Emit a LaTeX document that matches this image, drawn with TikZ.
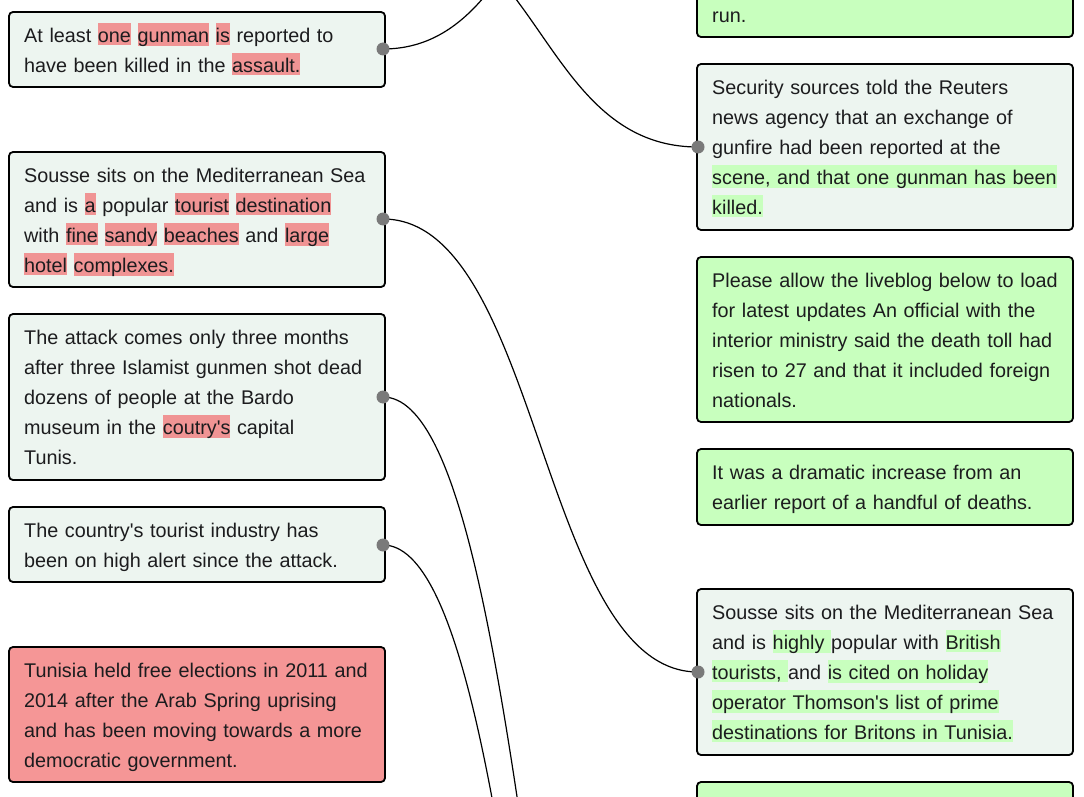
\documentclass[tikz,border=0pt]{standalone}
\usepackage{fontspec}
\newfontfamily\boxfont{Liberation Sans}
\usetikzlibrary{calc,backgrounds}
\definecolor{lightbox}{RGB}{237,245,240}
\definecolor{greenbox}{RGB}{200,255,190}
\definecolor{redbox}{RGB}{245,150,150}
\definecolor{hlred}{RGB}{240,148,148}
\definecolor{hlgreen}{RGB}{200,255,190}
\definecolor{txtcol}{RGB}{28,28,30}
\definecolor{dotgrey}{RGB}{122,122,122}
\newcommand\ls{\rule[-3pt]{0pt}{22.5pt}}
\newcommand\hr[1]{{\setlength{\fboxsep}{0pt}\colorbox{hlred}{\ls#1}}}
\newcommand\hg[1]{{\setlength{\fboxsep}{0pt}\colorbox{hlgreen}{\ls#1}}}
\tikzset{
  box/.style={rectangle, rounded corners=4pt, draw=black, line width=1.8pt, minimum width=376pt, anchor=north west, inner sep=0pt, outer sep=0pt},
  lbox/.style={box, fill=lightbox},
  gbox/.style={box, fill=greenbox},
  rbox/.style={box, fill=redbox},
  txt/.style={anchor=north west, inner sep=0pt, text width=380pt, align=left, font=\boxfont\fontsize{19.8}{30}\selectfont, text=txtcol},
  dot/.style={circle, fill=dotgrey, minimum size=13pt, inner sep=0pt},
  link/.style={line width=1.2pt, draw=black}
}
\begin{document}
\begin{tikzpicture}[x=1pt,y=-1pt]
\useasboundingbox (0,0) rectangle (1084,797);
\clip (0,0) rectangle (1084,797);
% left column boxes
\node[lbox, minimum height=75pt] (L1) at (9,12) {};
\node[lbox, minimum height=135pt] (L2) at (9,152) {};
\node[lbox, minimum height=166pt] (L3) at (9,314) {};
\node[lbox, minimum height=75pt] (L4) at (9,507) {};
\node[rbox, minimum height=135pt] (L5) at (9,647) {};
% right column boxes
\node[gbox, minimum height=105pt] (R0) at (697,-68) {};
\node[lbox, minimum height=166pt] (R1) at (697,64) {};
\node[gbox, minimum height=165pt] (R2) at (697,257) {};
\node[gbox, minimum height=76pt] (R3) at (697,449) {};
\node[lbox, minimum height=166pt] (R4) at (697,589) {};
\node[gbox, minimum height=135pt] (R5) at (697,782) {};
% texts left
\node[txt] (T1) at (24,22.5) {\ls At least \hr{one} \hr{gunman} \hr{is} reported to\\
have been killed in the \hr{assault.}};
\node[txt] (T2) at (24,162.5) {\ls Sousse sits on the Mediterranean Sea\\
and is \hr{a} popular \hr{tourist} \hr{destination}\\
with \hr{fine} \hr{sandy} \hr{beaches} and \hr{large}\\
\hr{hotel} \hr{complexes.}};
\node[txt] (T3) at (24,324.5) {\ls The attack comes only three months\\
after three Islamist gunmen shot dead\\
dozens of people at the Bardo\\
museum in the \hr{coutry's} capital\\
Tunis.};
\node[txt] (T4) at (24,517.5) {\ls The country's tourist industry has\\
been on high alert since the attack.};
\node[txt] (T5) at (24,657.5) {\ls Tunisia held free elections in 2011 and\\
2014 after the Arab Spring uprising\\
and has been moving towards a more\\
democratic government.};
% texts right
\node[txt] (U0) at (712,2.5) {\ls run.};
\node[txt] (U1) at (712,74.5) {\ls Security sources told the Reuters\\
news agency that an exchange of\\
gunfire had been reported at the\\
\hg{scene, and that one gunman has been}\\
\hg{killed.}};
\node[txt] (U2) at (712,267.5) {\ls Please allow the liveblog below to load\\
for latest updates An official with the\\
interior ministry said the death toll had\\
risen to 27 and that it included foreign\\
nationals.};
\node[txt] (U3) at (712,459.5) {\ls It was a dramatic increase from an\\
earlier report of a handful of deaths.};
\node[txt] (U4) at (712,599.5) {\ls Sousse sits on the Mediterranean Sea\\
and is \hg{highly }popular with \hg{British}\\
\hg{tourists, }and \hg{is cited on holiday}\\
\hg{operator Thomson's list of prime}\\
\hg{destinations for Britons in Tunisia.}};
% dots
\node[dot] (d1) at (383,49) {};
\node[dot] (d2) at (383,219) {};
\node[dot] (d3) at (383,397) {};
\node[dot] (d4) at (383,545) {};
\node[dot] (e1) at (698,147) {};
\node[dot] (e4) at (698,672) {};
% off-image ends
\coordinate (x1) at (698,-230);
\coordinate (y1) at (383,-80);
\coordinate (x3) at (698,1524);
\coordinate (x4) at (698,1685);
% links
\begin{scope}[on background layer]
\fill[white] (0,0) rectangle (1084,797);
\draw[link] (d1.center) .. controls ($(d1.center)+(157.5,0)$) and ($(x1)-(157.5,0)$) .. (x1);
\draw[link] (y1) .. controls ($(y1)+(157.5,0)$) and ($(e1.center)-(157.5,0)$) .. (e1.center);
\draw[link] (d2.center) .. controls ($(d2.center)+(157.5,0)$) and ($(e4.center)-(157.5,0)$) .. (e4.center);
\draw[link] (d3.center) .. controls ($(d3.center)+(157.5,0)$) and ($(x3)-(157.5,0)$) .. (x3);
\draw[link] (d4.center) .. controls ($(d4.center)+(157.5,0)$) and ($(x4)-(157.5,0)$) .. (x4);
\end{scope}
\end{tikzpicture}
\end{document}
